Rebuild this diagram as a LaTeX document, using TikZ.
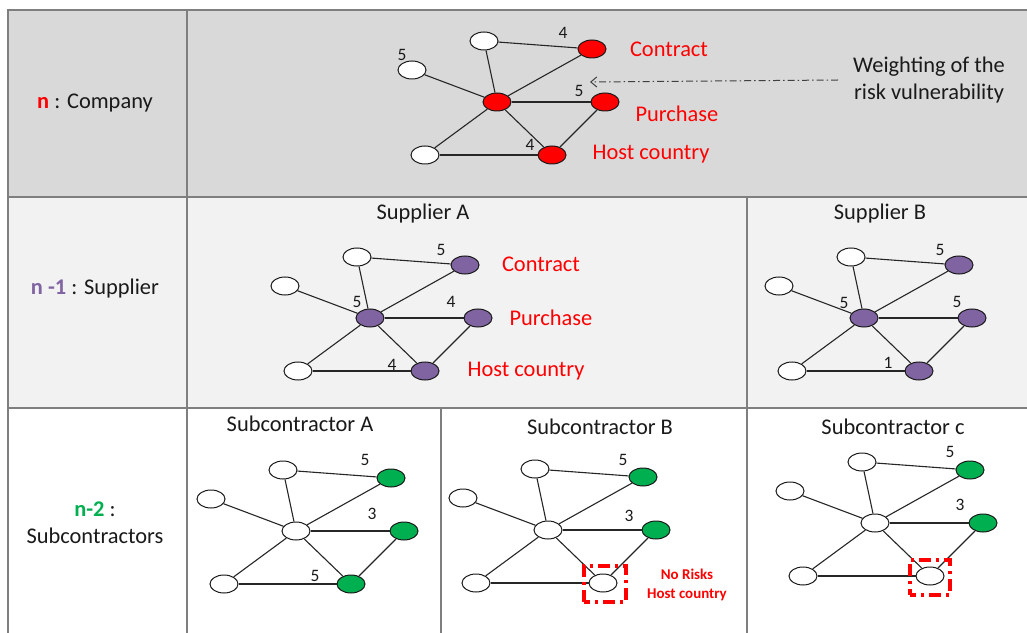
\documentclass[tikz,border=0pt]{standalone}
\usepackage{fontspec}
\setmainfont{Carlito}
\usetikzlibrary{shapes.geometric,arrows.meta}
\definecolor{rowA}{HTML}{D9D9D9}
\definecolor{rowB}{HTML}{F2F2F2}
\definecolor{gridc}{HTML}{7F7F7F}
\definecolor{pur}{HTML}{8064A2}
\definecolor{grn}{HTML}{00B050}
\definecolor{rd}{HTML}{FF0000}
\definecolor{txt}{HTML}{1A1A1A}
\tikzset{
  vtx/.style={ellipse, draw=black!90, line width=1bp, minimum width=28bp, minimum height=18bp, inner sep=0pt},
  link/.style={draw=black!85, line width=1.1bp},
  wt/.style={font=\fontsize{17.5}{19}\selectfont, inner sep=0pt, text=txt},
  lbl/.style={font=\fontsize{22.5}{27}\selectfont, inner sep=0pt, text=txt},
  risk/.style={lbl, text=rd},
  gridline/.style={draw=gridc, line width=1.5bp},
  nobox/.style={draw=rd, line width=3.2bp, dash pattern=on 12bp off 5bp on 3bp off 5bp, dash phase=6bp, inner sep=0pt},
}
\newcommand{\riskgraph}[7]{%
  \begin{scope}[shift={(#2,#3)}]
    \node[vtx, fill=#4] (#1c) at (0,0) {};
    \node[vtx, fill=white] (#1t) at (-13,-61) {};
    \node[vtx, fill=#5] (#1k) at (95,-53) {};
    \node[vtx, fill=white] (#1l) at (-85,-32) {};
    \node[vtx, fill=#6] (#1p) at (108,0) {};
    \node[vtx, fill=white] (#1b) at (-72,53) {};
    \node[vtx, fill=#7] (#1h) at (55,53) {};
  \end{scope}
  \draw[link] (#1t) -- (#1k);
  \draw[link] (#1t) -- (#1c);
  \draw[link] (#1l) -- (#1c);
  \draw[link] (#1c) -- (#1k);
  \draw[link] (#1c) -- (#1p);
  \draw[link] (#1c) -- (#1b);
  \draw[link] (#1c) -- (#1h);
  \draw[link] (#1p) -- (#1h);
  \draw[link] (#1b) -- (#1h);
}
\begin{document}
\begin{tikzpicture}[x=1bp, y=-1bp]
\useasboundingbox (0,0) rectangle (1027,633);
\fill[white] (0,0) rectangle (1027,633);
% rows
\fill[rowA] (8,10) rectangle (1027,197);
\fill[rowB] (8,197) rectangle (1027,408);
% grid
\draw[gridline] (8,633) -- (8,10) -- (1027,10);
\draw[gridline] (8,197) -- (1027,197);
\draw[gridline] (8,408) -- (1027,408);
\draw[gridline] (187,10) -- (187,633);
\draw[gridline] (747,197) -- (747,633);
\draw[gridline] (441,408) -- (441,633);
% left labels
\node[lbl] (lc) at (95,103) {{\bfseries\color{rd}n} : Company};
\node[lbl] (ls) at (95,289) {{\bfseries\color{pur}n -1} : Supplier};
\node[lbl, align=center] (lsub) at (95,523) {{\bfseries\color{grn}n-2} :\\Subcontractors};
% graphs
\riskgraph{g}{497}{102}{rd}{rd}{rd}{rd}
\riskgraph{a}{370}{318}{pur}{pur}{pur}{pur}
\riskgraph{s}{864}{318}{pur}{pur}{pur}{pur}
\riskgraph{u}{296}{531}{white}{grn}{grn}{grn}
\riskgraph{v}{548}{530}{white}{grn}{grn}{white}
\riskgraph{w}{875}{523}{white}{grn}{grn}{white}
% top labels
\node[risk] (gkt) at (669,49) {Contract};
\node[risk] (gpt) at (677,114) {Purchase};
\node[risk] (ght) at (651,154) {Host country};
\node[wt] (g1) at (563,33) {4};
\node[wt] (g2) at (402,55) {5};
\node[wt] (g3) at (579,91) {5};
\node[wt] (g4) at (530,145) {4};
\node[lbl, align=center] (wgt) at (929,80) {Weighting of the\\risk vulnerability};
\coordinate (arrS) at (838,80);
\coordinate (arrE) at (590,82);
\draw[draw=black!75, line width=1bp, dash pattern=on 7bp off 3bp on 1.5bp off 3bp, -{Straight Barb[length=6bp,width=10bp]}] (arrS) -- (arrE);
% supplier A
\node[lbl] (ha) at (423,214) {Supplier A};
\node[risk] (akt) at (541,264) {Contract};
\node[risk] (apt) at (551,318) {Purchase};
\node[risk] (aht) at (526,371) {Host country};
\node[wt] (a1) at (441,250) {5};
\node[wt] (a2) at (357,302) {5};
\node[wt] (a3) at (451,302) {4};
\node[wt] (a4) at (392,365) {4};
% supplier B
\node[lbl] (hb) at (880,214) {Supplier B};
\node[wt] (s1) at (940,250) {5};
\node[wt] (s2) at (844,303) {5};
\node[wt] (s3) at (957,302) {5};
\node[wt] (s4) at (888,363) {1};
% subcontractors
\node[lbl] (hu) at (300,424) {Subcontractor A};
\node[lbl] (hv) at (600,427) {Subcontractor B};
\node[lbl] (hw) at (893,427) {Subcontractor c};
\node[wt] (u1) at (365,460) {5};
\node[wt] (u2) at (372,514) {3};
\node[wt] (u3) at (315,576) {5};
\node[wt] (v1) at (623,460) {5};
\node[wt] (v2) at (629,516) {3};
\node[wt] (w1) at (950,452) {5};
\node[wt] (w2) at (960,505) {3};
\node[nobox, minimum width=42bp, minimum height=36bp] (vbox) at (605,584) {};
\node[nobox, minimum width=40bp, minimum height=35bp] (wbox) at (930,577.5) {};
\node[font=\fontsize{15}{19}\selectfont\bfseries, text=rd, align=center, inner sep=0pt] (nr) at (687,585) {No Risks\\Host country};
\end{tikzpicture}
\end{document}
